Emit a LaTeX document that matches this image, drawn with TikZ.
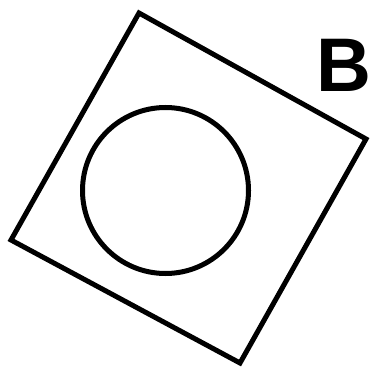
\documentclass[tikz,border=0pt]{standalone}
\usepackage{fontspec}
\setmainfont{Liberation Sans}
\begin{document}
\begin{tikzpicture}[
  x=1pt, y=-1pt,
  outline/.style={draw, line width=5pt, line join=miter},
  letter/.style={font=\fontsize{76}{76}\selectfont\bfseries, inner sep=0pt, anchor=base west}
]
\useasboundingbox (0,0) rectangle (370,371);
% tilted frame
\coordinate (top) at (139,13);
\coordinate (right) at (366,139);
\coordinate (bottom) at (240,363);
\coordinate (left) at (11,240);
\draw[outline] (top) -- (right) -- (bottom) -- (left) -- cycle;
% inner circle
\coordinate (mid) at (165.5,190.5);
\draw[outline] (mid) circle[radius=83];
% panel label
\node[letter] (lbl) at (316,92) {B};
\end{tikzpicture}
\end{document}
